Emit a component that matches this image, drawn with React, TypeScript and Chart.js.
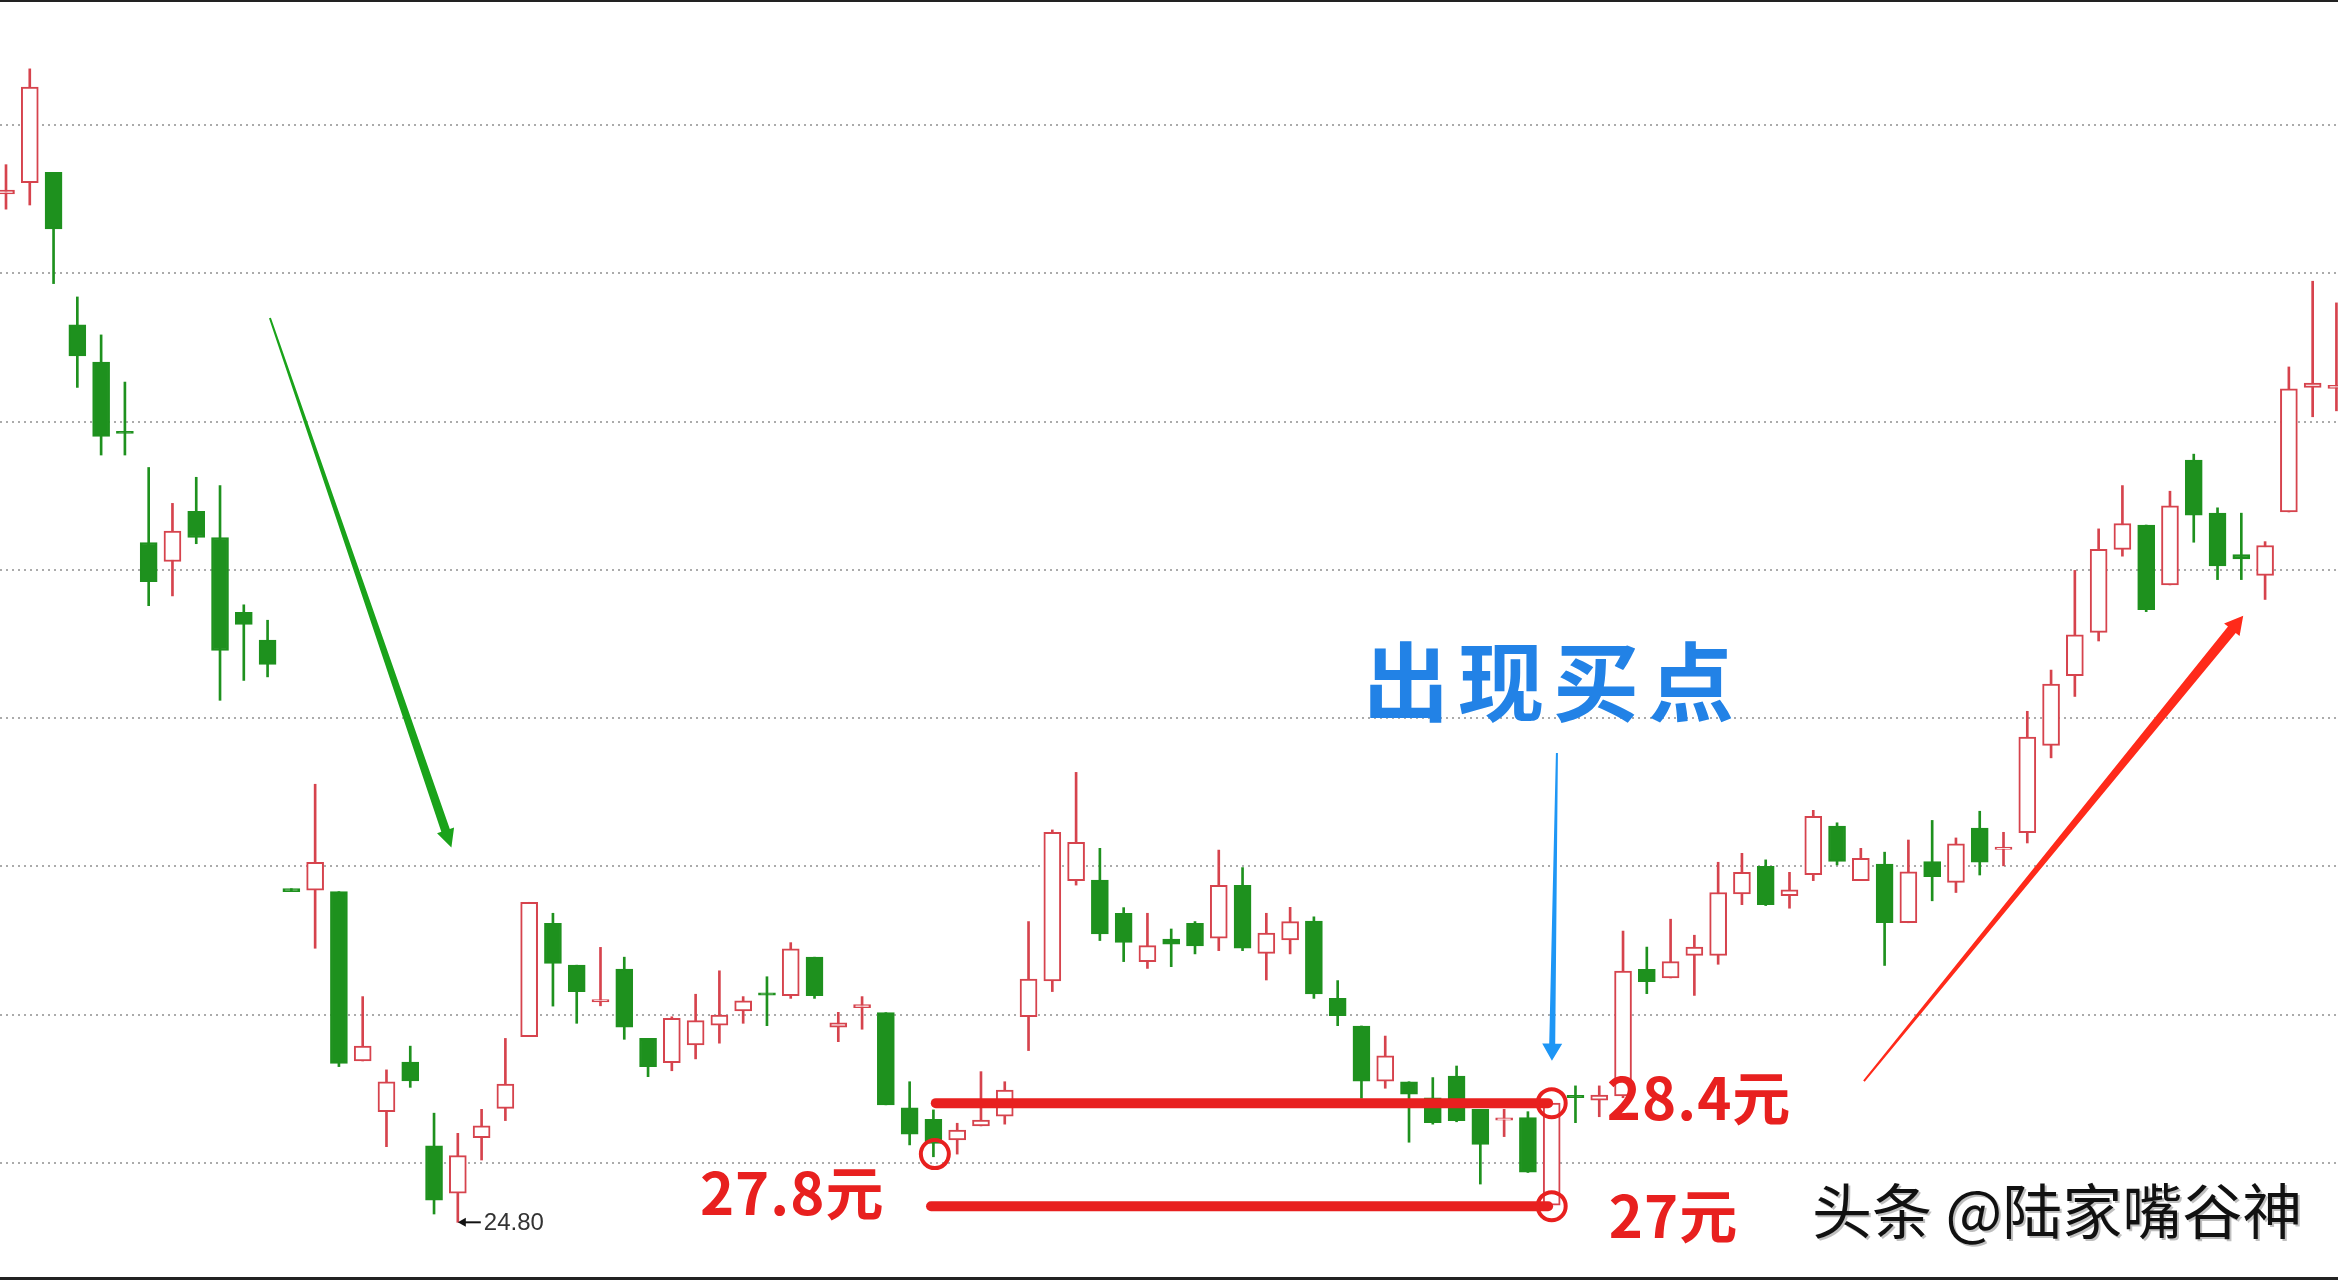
import React, { useEffect, useRef } from "react";
import { Chart, registerables } from "chart.js";

Chart.register(...registerables);

// ---- Candle data (price units), index 0..98 ----
const OPEN = [
  28.267, 28.305, 28.34, 27.826, 27.7, 27.467, 27.092, 27.028, 27.197, 27.109,
  26.857, 26.763, 25.925, 25.92, 25.915, 25.344, 25.173, 25.34, 25.058, 24.898,
  25.085, 25.184, 25.426, 25.808, 25.667, 25.543, 25.654, 25.42, 25.338, 25.398,
  25.465, 25.513, 25.574, 25.564, 25.694, 25.458, 25.524, 25.507, 25.186, 25.147,
  25.078, 25.125, 25.158, 25.493, 25.614, 25.952, 25.954, 25.842, 25.679, 25.755,
  25.808, 25.758, 25.936, 25.707, 25.752, 25.816, 25.555, 25.462, 25.276, 25.274,
  25.22, 25.293, 25.181, 25.144, 25.153, 24.858, 25.228, 25.212, 25.226, 25.653,
  25.624, 25.7, 25.7, 25.907, 26.0, 25.901, 25.972, 26.136, 25.952, 26.008,
  25.81, 26.016, 25.946, 26.129, 26.057, 26.114, 26.408, 26.643, 26.789, 27.069,
  27.151, 26.949, 27.37, 27.191, 27.051, 26.981, 27.195, 27.615, 27.612,
];
const CLOSE = [
  28.28, 28.628, 28.149, 27.721, 27.45, 27.46, 26.96, 27.131, 27.109, 26.728,
  26.816, 26.681, 25.915, 26.014, 25.336, 25.394, 25.274, 25.277, 24.875, 25.025,
  25.125, 25.266, 25.879, 25.673, 25.578, 25.551, 25.458, 25.325, 25.488, 25.48,
  25.499, 25.547, 25.566, 25.722, 25.564, 25.473, 25.534, 25.196, 25.097, 25.066,
  25.111, 25.145, 25.246, 25.62, 26.115, 26.081, 25.772, 25.744, 25.733, 25.738,
  25.732, 25.936, 25.724, 25.775, 25.814, 25.57, 25.497, 25.276, 25.361, 25.232,
  25.136, 25.143, 25.063, 25.152, 24.969, 25.202, 25.22, 25.229, 25.647, 25.611,
  25.679, 25.728, 25.912, 25.98, 25.871, 25.921, 26.169, 26.017, 26.027, 25.81,
  25.982, 25.965, 26.076, 26.014, 26.065, 26.436, 26.615, 26.781, 27.069, 27.156,
  26.866, 27.216, 27.184, 27.013, 27.037, 27.082, 27.61, 27.63, 27.622,
];
const HIGH = [
  28.366, 28.689, 28.34, 27.92, 27.792, 27.633, 27.345, 27.224, 27.312, 27.284,
  26.882, 26.83, 25.925, 26.277, 25.915, 25.561, 25.314, 25.394, 25.168, 25.1,
  25.181, 25.42, 25.879, 25.842, 25.667, 25.727, 25.694, 25.42, 25.493, 25.569,
  25.648, 25.561, 25.628, 25.743, 25.694, 25.508, 25.561, 25.507, 25.274, 25.179,
  25.134, 25.308, 25.274, 25.814, 26.123, 26.317, 26.061, 25.861, 25.842, 25.789,
  25.814, 26.055, 25.996, 25.842, 25.862, 25.83, 25.615, 25.462, 25.428, 25.274,
  25.288, 25.327, 25.181, 25.181, 25.173, 25.202, 25.26, 25.26, 25.782, 25.728,
  25.822, 25.768, 26.014, 26.044, 26.022, 25.98, 26.189, 26.147, 26.061, 26.048,
  26.089, 26.155, 26.096, 26.186, 26.115, 26.523, 26.662, 26.998, 27.138, 27.284,
  27.151, 27.265, 27.39, 27.209, 27.191, 27.095, 27.684, 27.973, 27.9,
];
const LOW = [
  28.216, 28.23, 27.965, 27.615, 27.387, 27.387, 26.879, 26.912, 27.088, 26.56,
  26.627, 26.639, 25.915, 25.724, 25.325, 25.344, 25.055, 25.255, 24.828, 24.8,
  25.01, 25.143, 25.426, 25.529, 25.471, 25.53, 25.417, 25.291, 25.311, 25.351,
  25.404, 25.471, 25.463, 25.555, 25.555, 25.409, 25.451, 25.196, 25.061, 25.021,
  25.03, 25.125, 25.131, 25.379, 25.578, 25.937, 25.75, 25.679, 25.656, 25.662,
  25.705, 25.716, 25.716, 25.617, 25.705, 25.555, 25.463, 25.218, 25.252, 25.07,
  25.131, 25.139, 24.929, 25.089, 24.968, 24.858, 25.136, 25.156, 25.22, 25.571,
  25.624, 25.565, 25.67, 25.871, 25.868, 25.859, 25.952, 26.005, 25.952, 25.666,
  25.81, 25.884, 25.912, 25.971, 26.002, 26.079, 26.366, 26.573, 26.76, 27.046,
  26.859, 26.949, 27.093, 26.967, 26.967, 26.9, 27.195, 27.516, 27.536,
];
const INDEX = OPEN.map((_, i) => i);

// y grid levels
const GRID_TICKS = [25, 25.5, 26, 26.5, 27, 27.5, 28, 28.5];

// visible window (index / price units)
const X_MIN = -0.2523;
const X_MAX = 98.066;
const Y_MIN = 24.6055;
const Y_MAX = 28.9212;

// annotation values
const LOW_LABEL = "24.80";
const LOW_PRICE = 24.8;
const LOW_INDEX = 19;
const LEVEL_LINES = [
  { from: 39.1, to: 64.85, price: 25.2018 },
  { from: 38.9, to: 64.85, price: 24.8544 },
];
const CIRCLES = [
  { i: 39.06, p: 25.03 },
  { i: 65.0, p: 25.2018 },
  { i: 65.0, p: 24.8544 },
];
const PRICE_LABELS = [
  { text: "27.8元", i: 29.18, p: 24.899 },
  { text: "28.4元", i: 67.32, p: 25.219 },
  { text: "27元", i: 67.4, p: 24.823 },
];
const SIGNAL_TEXT = "出现买点";
const SIGNAL_POS = { i: 57.07, p: 26.62 };
const WATERMARK = "头条 @陆家嘴谷神";
const WATERMARK_POS = { i: 75.95, p: 24.836 };
const ARROWS = [
  { from: [11.1, 27.849], to: [18.73, 26.064], color: "#1aa31a", w0: 2, w1: 9, head: 18, half: 9 },
  { from: [65.22, 26.382], to: [65.01, 25.345], color: "#1e96f5", w0: 2, w1: 6, head: 17, half: 10 },
  { from: [78.13, 25.276], to: [94.08, 26.845], color: "#ff2a1a", w0: 2, w1: 10, head: 18, half: 10 },
];

const RED = "#d6434d";
const GREEN = "#1e911e";
const ANNO_RED = "#e8201f";

const isUp = (i: number) => CLOSE[i] >= OPEN[i];

function taperArrow(ctx: CanvasRenderingContext2D, x0: number, y0: number, x1: number, y1: number, w0: number, w1: number, headLen: number, headHalf: number, color: string) {
  const dx = x1 - x0, dy = y1 - y0;
  const len = Math.hypot(dx, dy);
  const ux = dx / len, uy = dy / len;
  const nx = -uy, ny = ux;
  const bx = x1 - ux * headLen, by = y1 - uy * headLen;
  ctx.beginPath();
  ctx.moveTo(x0 + nx * w0 / 2, y0 + ny * w0 / 2);
  ctx.lineTo(bx + nx * w1 / 2, by + ny * w1 / 2);
  ctx.lineTo(bx + nx * headHalf, by + ny * headHalf);
  ctx.lineTo(x1, y1);
  ctx.lineTo(bx - nx * headHalf, by - ny * headHalf);
  ctx.lineTo(bx - nx * w1 / 2, by - ny * w1 / 2);
  ctx.lineTo(x0 - nx * w0 / 2, y0 - ny * w0 / 2);
  ctx.closePath();
  ctx.fillStyle = color;
  ctx.fill();
}

const annotationPlugin = {
  id: "annotations",
  afterDatasetsDraw(chart: any) {
    const ctx: CanvasRenderingContext2D = chart.ctx;
    const xs = chart.scales.x;
    const ys = chart.scales.y;
    const px = (i: number) => xs.getPixelForValue(i);
    const py = (p: number) => ys.getPixelForValue(p);
    ctx.save();

    for (const a of ARROWS) {
      taperArrow(ctx, px(a.from[0]), py(a.from[1]), px(a.to[0]), py(a.to[1]), a.w0, a.w1, a.head, a.half, a.color);
    }

    ctx.strokeStyle = ANNO_RED;
    ctx.lineWidth = 10;
    ctx.lineCap = "round";
    for (const ln of LEVEL_LINES) {
      ctx.beginPath();
      ctx.moveTo(px(ln.from), py(ln.price));
      ctx.lineTo(px(ln.to), py(ln.price));
      ctx.stroke();
    }
    ctx.lineWidth = 4;
    for (const c of CIRCLES) {
      ctx.beginPath();
      ctx.arc(px(c.i), py(c.p), 14, 0, Math.PI * 2);
      ctx.stroke();
    }

    ctx.fillStyle = ANNO_RED;
    ctx.font = 'bold 58px "Noto Sans CJK SC", sans-serif';
    ctx.textBaseline = "middle";
    ctx.textAlign = "left";
    (ctx as any).letterSpacing = "1px";
    for (const l of PRICE_LABELS) {
      ctx.fillText(l.text, px(l.i), py(l.p));
    }

    ctx.fillStyle = "#2282e6";
    ctx.font = 'bold 86px "Noto Sans CJK SC", sans-serif';
    (ctx as any).letterSpacing = "9px";
    ctx.fillText(SIGNAL_TEXT, px(SIGNAL_POS.i), py(SIGNAL_POS.p));

    (ctx as any).letterSpacing = "0px";
    ctx.font = '60px "Noto Sans CJK SC", sans-serif';
    ctx.fillStyle = "rgba(0,0,0,0.25)";
    ctx.fillText(WATERMARK, px(WATERMARK_POS.i) + 2, py(WATERMARK_POS.p) + 2);
    ctx.fillStyle = "#111111";
    ctx.fillText(WATERMARK, px(WATERMARK_POS.i), py(WATERMARK_POS.p));

    const lx = px(LOW_INDEX), ly = py(LOW_PRICE);
    ctx.strokeStyle = "#111";
    ctx.lineWidth = 2;
    ctx.lineCap = "butt";
    ctx.beginPath();
    ctx.moveTo(lx + 4, ly);
    ctx.lineTo(lx + 23, ly);
    ctx.stroke();
    ctx.fillStyle = "#111";
    ctx.beginPath();
    ctx.moveTo(lx, ly);
    ctx.lineTo(lx + 8, ly - 4.5);
    ctx.lineTo(lx + 8, ly + 4.5);
    ctx.closePath();
    ctx.fill();
    ctx.fillStyle = "#333";
    ctx.font = '24px "Liberation Sans", Arial, sans-serif';
    ctx.fillText(LOW_LABEL, lx + 26, ly + 1);

    ctx.restore();
  },
  afterDraw(chart: any) {
    const ctx: CanvasRenderingContext2D = chart.ctx;
    ctx.save();
    ctx.fillStyle = "#222";
    ctx.fillRect(0, 0, chart.width, 2);
    ctx.fillRect(0, chart.height - 3, chart.width, 3);
    ctx.restore();
  },
};

export default function App() {
  const ref = useRef<HTMLCanvasElement | null>(null);
  useEffect(() => {
    document.body.style.margin = "0";
    document.body.style.background = "#ffffff";
    const canvas = ref.current;
    if (!canvas) return;
    const chart = new Chart(canvas, {
      type: "bar",
      data: {
        datasets: [
          {
            label: "body",
            data: INDEX.map((i) => ({ x: i, y: [OPEN[i], CLOSE[i]] })) as any,
            backgroundColor: INDEX.map((i) => (isUp(i) ? "#ffffff" : GREEN)),
            borderColor: INDEX.map((i) => (isUp(i) ? RED : GREEN)),
            borderWidth: 2,
            borderSkipped: false,
            barThickness: 17,
            grouped: false,
            order: 0,
          } as any,
          {
            label: "wick",
            data: INDEX.map((i) => ({ x: i, y: [LOW[i], HIGH[i]] })) as any,
            backgroundColor: INDEX.map((i) => (isUp(i) ? RED : GREEN)),
            borderWidth: 0,
            barThickness: 2,
            grouped: false,
            order: 1,
          } as any,
        ],
      },
      options: {
        animation: false,
        responsive: false,
        maintainAspectRatio: false,
        devicePixelRatio: 1,
        layout: { padding: 0 },
        plugins: { legend: { display: false }, tooltip: { enabled: false } },
        scales: {
          x: {
            type: "linear",
            min: X_MIN,
            max: X_MAX,
            offset: false,
            bounds: "ticks",
            display: false,
            grid: { offset: false },
          } as any,
          y: {
            type: "linear",
            min: Y_MIN,
            max: Y_MAX,
            display: true,
            afterFit: (s: any) => { s.width = 0; },
            afterBuildTicks: (s: any) => { s.ticks = GRID_TICKS.map((v) => ({ value: v })); },
            ticks: { display: false },
            grid: { color: "#ababab", lineWidth: 2, drawTicks: false, borderDash: [2, 4] } as any,
            border: { display: false, dash: [2, 4] },
          } as any,
        },
      },
      plugins: [annotationPlugin],
    });
    return () => chart.destroy();
  }, []);
  return (
    <canvas
      ref={ref}
      width={2338}
      height={1280}
      style={{ display: "block", width: "2338px", height: "1280px" }}
    />
  );
}
